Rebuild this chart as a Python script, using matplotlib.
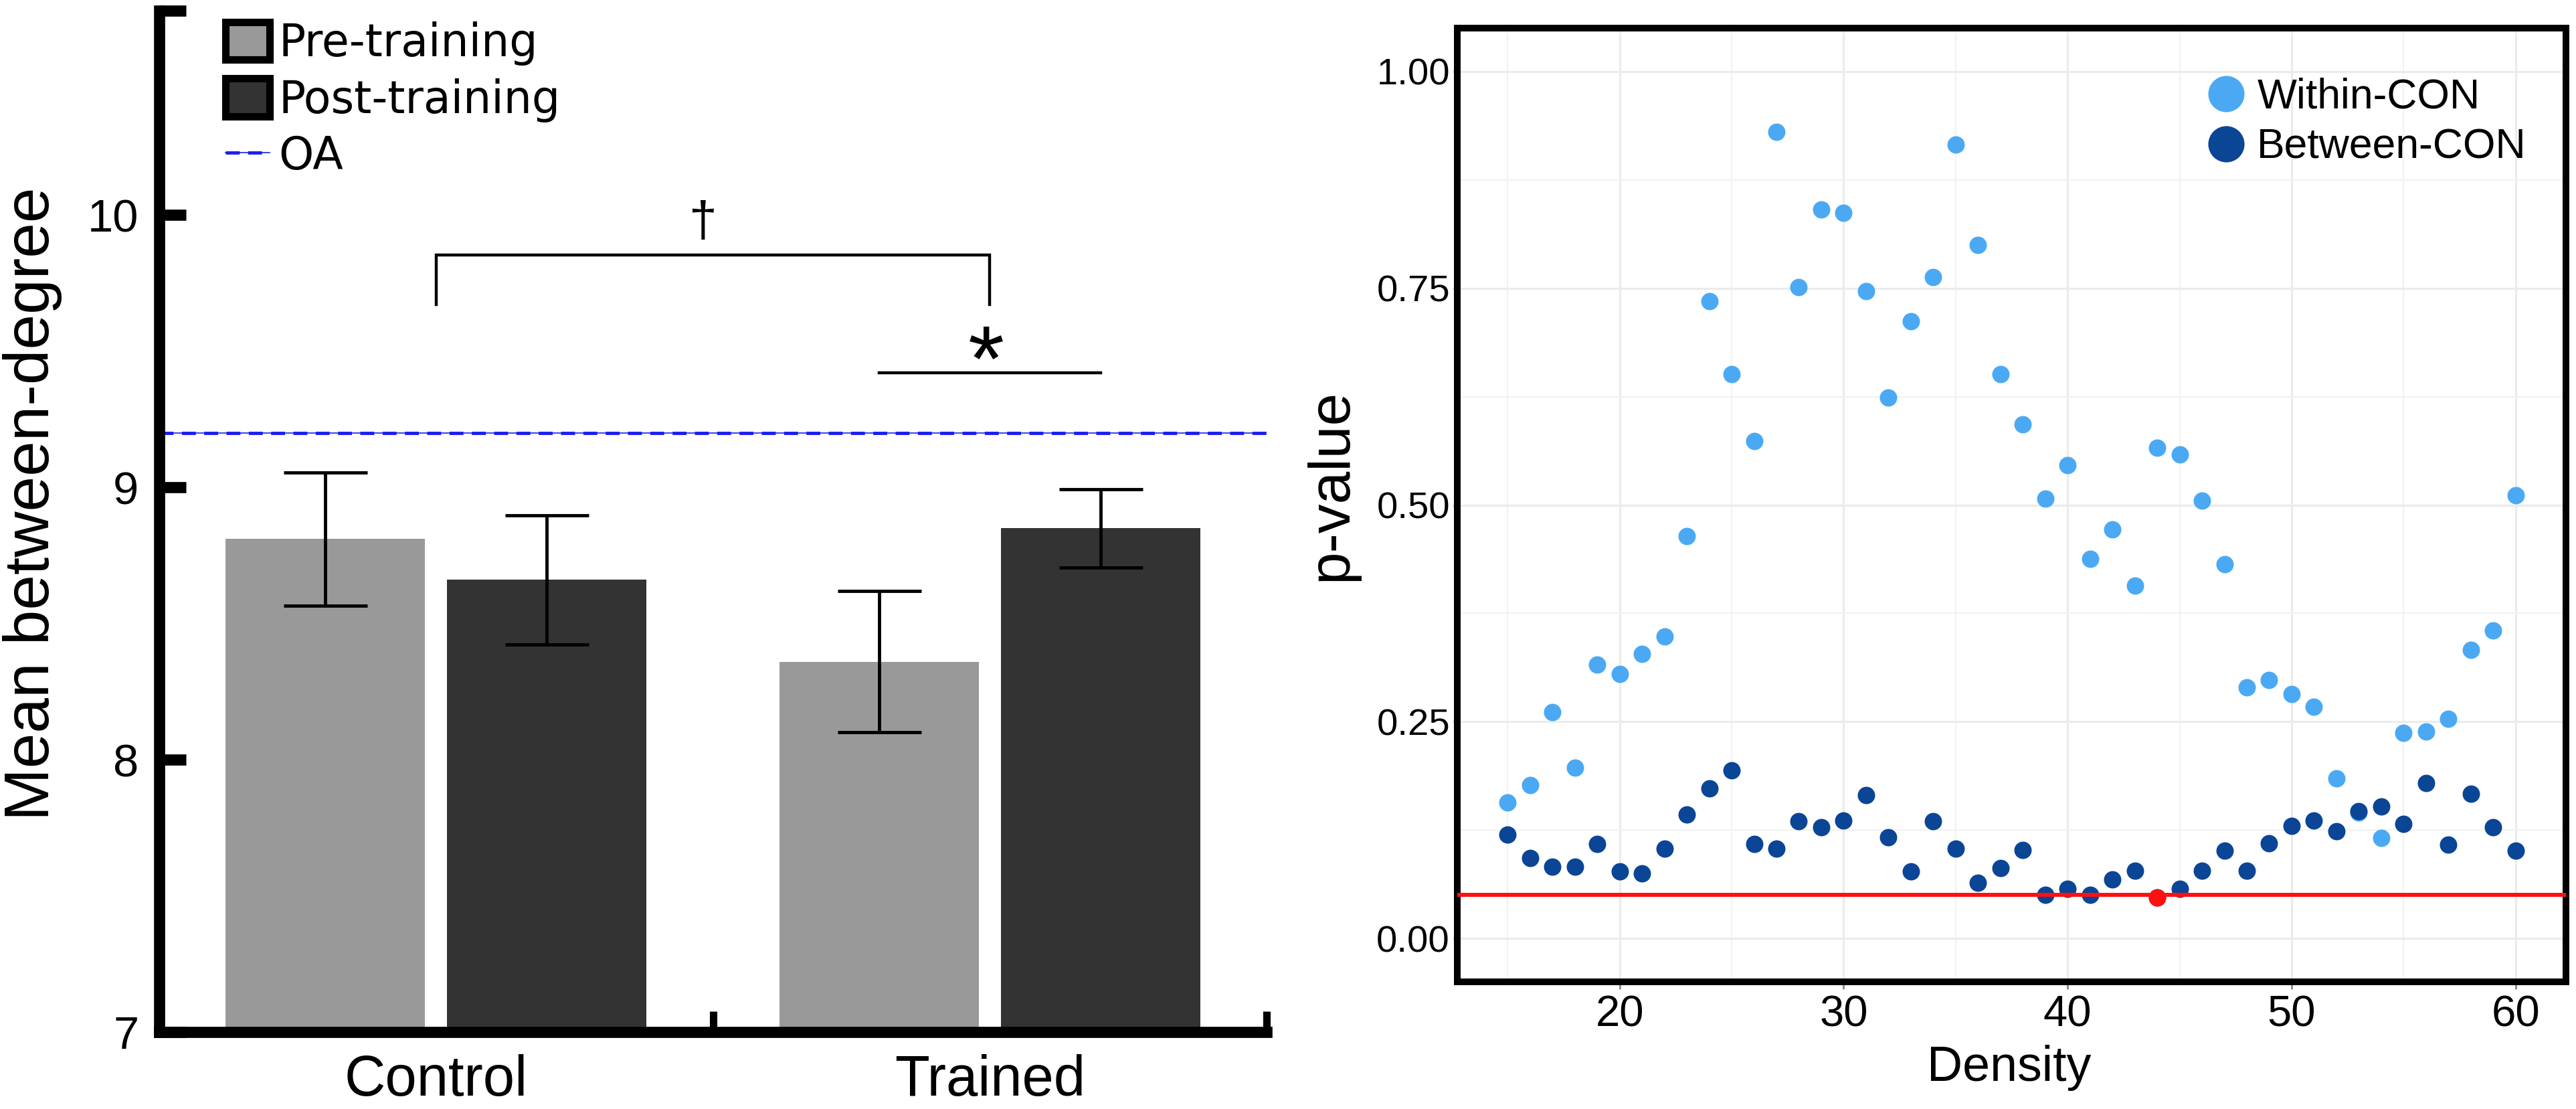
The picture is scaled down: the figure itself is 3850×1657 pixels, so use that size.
import matplotlib
matplotlib.use('Agg')
import matplotlib.pyplot as plt
from matplotlib import font_manager
from matplotlib.patches import Patch
from matplotlib.lines import Line2D
from matplotlib.legend_handler import HandlerTuple
import numpy as np

# ---- data: left panel (bars) ----
groups = ['Control', 'Trained']
pre_means = [8.81, 8.36]
post_means = [8.66, 8.85]
pre_err = [0.244, 0.259]
post_err = [0.237, 0.144]
oa_value = 9.20

# ---- data: right panel (p-value by density) ----
density = list(range(15, 61))
within_con = [0.157, 0.177, 0.261, 0.197, 0.316, 0.305, 0.328, 0.348, 0.464, 0.735,
              0.651, 0.574, 0.930, 0.751, 0.841, 0.837, 0.747, 0.624, 0.712, 0.763,
              0.916, 0.800, 0.651, 0.593, 0.507, 0.546, 0.438, 0.472, 0.407, 0.566,
              0.558, 0.505, 0.432, 0.290, 0.298, 0.282, 0.267, 0.185, 0.145, 0.116,
              0.237, 0.239, 0.253, 0.333, 0.355, 0.511]
between_con = [0.120, 0.093, 0.083, 0.083, 0.109, 0.077, 0.075, 0.104, 0.143, 0.173,
               0.194, 0.109, 0.104, 0.135, 0.128, 0.136, 0.165, 0.117, 0.077, 0.135,
               0.104, 0.064, 0.081, 0.102, 0.050, 0.057, 0.050, 0.068, 0.078, 0.047,
               0.057, 0.078, 0.101, 0.078, 0.110, 0.130, 0.136, 0.124, 0.147, 0.152,
               0.132, 0.179, 0.108, 0.167, 0.128, 0.101]
alpha_line = 0.05
highlight_density = [44]

# fonts - the original uses a condensed face, use narrow if we have it
names = {f.name for f in font_manager.fontManager.ttflist}
regular = 'Liberation Sans'
if 'Liberation Sans Narrow' in names:
    narrow, nscale = 'Liberation Sans Narrow', 1.0
else:
    narrow, nscale = 'Liberation Sans', 0.9
plt.rcParams['font.family'] = [regular, 'DejaVu Sans']
plt.rcParams['lines.scale_dashes'] = False

W, H = 3850, 1657
fig = plt.figure(figsize=(W / 100, H / 100), dpi=100)

# ================= left panel =================
ax = fig.add_axes([238 / W, 1 - 1542 / H, (1893 - 238) / W, (1542 - 16) / H])
x = np.arange(1, len(groups) + 1)
off, bw = 0.2, 0.36
ax.bar(x - off, pre_means, width=bw, color='#999999', zorder=2)
ax.bar(x + off, post_means, width=bw, color='#333333', zorder=2)
ax.errorbar(x - off, pre_means, yerr=pre_err, fmt='none', ecolor='black',
            elinewidth=3.5, capsize=45, capthick=3.5, zorder=3)
ax.errorbar(x + off, post_means, yerr=post_err, fmt='none', ecolor='black',
            elinewidth=3.5, capsize=45, capthick=3.5, zorder=3)

oa_thin = ax.axhline(oa_value, color='#1c1cf0', lw=1.2, zorder=1)
oa_dash = ax.axhline(oa_value, color='#1c1cf0', lw=3.5, dashes=(15, 9), zorder=1)

ax.set_xlim(0.5, 2.5)
ax.set_ylim(7, 10.75)
ax.set_yticks([7, 8, 9, 10, 10.75])
ax.set_yticklabels(['7', '8', '9', '10', ''], fontfamily=narrow, fontsize=55 * nscale)
ax.set_xticks([0.5, 1.5, 2.5])
ax.set_xticklabels(['', '', ''])
ax.set_xticks(x, minor=True)
ax.set_xticklabels(groups, minor=True, fontfamily=narrow, fontsize=68 * nscale)
ax.tick_params(axis='y', direction='in', length=29, width=12, pad=22)
ax.tick_params(axis='x', which='major', direction='in', length=22, width=8)
ax.tick_params(axis='x', which='minor', length=0, pad=24)
for s in ['top', 'right']:
    ax.spines[s].set_visible(False)
for s in ['left', 'bottom']:
    ax.spines[s].set_linewidth(12)
    ax.spines[s].set_capstyle('projecting')

ax.set_ylabel('Mean between-degree', fontsize=68, va='center')
ax.yaxis.set_label_coords((49 - 238) / (1893 - 238), 0.517)

# significance markers
br_y, leg_y = 9.853, 9.67
ax.plot([1.0, 1.0, 2.0, 2.0], [leg_y, br_y, br_y, leg_y], color='black', lw=3.2,
        solid_joinstyle='miter')
ax.text(1.482, 9.97, '\u2020', ha='center', va='center', fontsize=54)
ax.plot([1.8, 2.2], [9.42, 9.42], color='black', lw=3.2)
ax.text(1.994, 9.445, '*', ha='center', va='center', fontsize=100)

leg1 = ax.legend(handles=[Patch(facecolor='#999999', edgecolor='black', lw=8),
                          Patch(facecolor='#333333', edgecolor='black', lw=8),
                          (oa_thin, oa_dash)],
                 labels=['Pre-training', 'Post-training', 'OA'],
                 handler_map={tuple: HandlerTuple(ndivide=1, pad=0)},
                 loc='upper left', bbox_to_anchor=(337 / W, 1 - 32 / H),
                 bbox_transform=fig.transFigure, frameon=False,
                 prop={'family': 'DejaVu Sans', 'size': 48},
                 borderpad=0, borderaxespad=0, handlelength=0.99, handleheight=0.93,
                 handletextpad=0.2, labelspacing=0.28)

# ================= right panel =================
ax2 = fig.add_axes([2178 / W, 1 - 1467 / H, (3835 - 2178) / W, (1467 - 42) / H])
ax2.set_xlim(12.75, 62.25)
ax2.set_ylim(-0.05, 1.05)
ax2.set_xticks([20, 30, 40, 50, 60])
ax2.set_xticks([15, 25, 35, 45, 55], minor=True)
ax2.set_yticks([0, 0.25, 0.5, 0.75, 1.0])
ax2.set_yticklabels(['0.00', '0.25', '0.50', '0.75', '1.00'], fontfamily=narrow,
                    fontsize=45 * nscale)
ax2.set_yticks([0.125, 0.375, 0.625, 0.875], minor=True)
ax2.grid(which='major', color='#EBEBEB', lw=2.2, zorder=0)
ax2.grid(which='minor', color='#F2F2F2', lw=1.6, zorder=0)
ax2.set_axisbelow(True)
ax2.tick_params(axis='x', labelsize=47, length=8, width=2, color='#8a8a8a', pad=6)
ax2.tick_params(axis='y', length=4, width=2, color='#8a8a8a', pad=4)
ax2.tick_params(which='minor', length=0)
for s in ax2.spines.values():
    s.set_linewidth(7.2)

within_color = '#4BA9F4'
between_color = '#0B4596'
ax2.scatter(density, within_con, s=350, color=within_color, lw=0, zorder=3,
            label='Within-CON')
ax2.scatter(density, between_con, s=350, color=between_color, lw=0, zorder=4,
            label='Between-CON')
ax2.axhline(alpha_line, color='#FF1010', lw=4.3, zorder=5)
hi_idx = [density.index(d) for d in highlight_density]
ax2.scatter([density[i] for i in hi_idx], [between_con[i] for i in hi_idx], s=350,
            color='#FF1010', lw=0, zorder=6)

ax2.set_xlabel('Density', fontsize=53)
ax2.xaxis.set_label_coords(0.498, -0.09)
ax2.xaxis.label.set_va('center')
ax2.set_ylabel('p-value', fontsize=63, va='center')
ax2.yaxis.set_label_coords((1990 - 2178) / (3835 - 2178), 0.521)

ax2.legend(handles=[Line2D([], [], marker='o', ls='', markersize=39, color=within_color,
                           markeredgewidth=0),
                    Line2D([], [], marker='o', ls='', markersize=39, color=between_color,
                           markeredgewidth=0)],
           labels=['Within-CON', 'Between-CON'],
           loc='upper left', bbox_to_anchor=(3302 / W, 1 - 116 / H),
           bbox_transform=fig.transFigure, frameon=False,
           prop={'family': narrow, 'size': 50 * nscale},
           borderpad=0, borderaxespad=0, handlelength=0.8, handletextpad=0.34,
           labelspacing=0.25)

fig.savefig('out.png', dpi=100)
